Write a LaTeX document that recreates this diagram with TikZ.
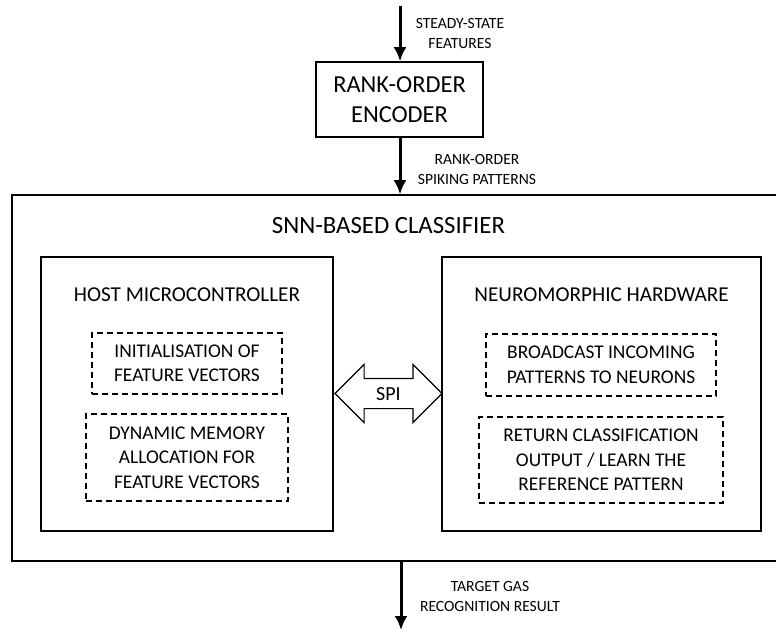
\documentclass[tikz,border=0pt]{standalone}
\usepackage{fontspec}
\setmainfont{Carlito}
\usetikzlibrary{arrows.meta,shapes.arrows}

\tikzset{
  block/.style={draw, line width=1.5pt, rectangle, inner sep=0pt},
  subtask/.style={draw, line width=1.2pt, dash pattern=on 6pt off 4pt, rectangle,
    align=center, inner sep=0pt, font=\fontsize{19.4}{24.5}\selectfont},
  heading/.style={align=center, font=\fontsize{21.2}{26}\selectfont},
  flowarrow/.style={line width=3pt, -{Latex[length=14pt,width=13pt]}},
  flowlabel/.style={align=center, font=\fontsize{15.6}{20}\selectfont},
}

\begin{document}
\begin{tikzpicture}[x=1pt,y=-1pt]
  \clip (0,0) rectangle (776,631);

  % Encoder
  \node [block, minimum width=167pt, minimum height=75pt, align=center,
    font=\fontsize{24.4}{30}\selectfont] (encoder) at (399.5,99.5)
    {RANK-ORDER\\ENCODER};

  % Classifier (right edge runs off the page)
  \node [block, minimum width=778pt, minimum height=366pt] (classifier) at (401,378) {};
  \node [heading, font=\fontsize{24.8}{30}\selectfont] (clstitle) at (388.5,226)
    {SNN-BASED CLASSIFIER};

  % Host microcontroller
  \node [block, minimum width=292pt, minimum height=274pt] (host) at (187,394) {};
  \node [heading] (hosttitle) at (187,295) {HOST MICROCONTROLLER};
  \node [subtask, minimum width=190pt, minimum height=61pt] (init) at (187,363.5)
    {INITIALISATION OF\\FEATURE VECTORS};
  \node [subtask, minimum width=202pt, minimum height=87pt] (alloc) at (187,457.5)
    {DYNAMIC MEMORY\\ALLOCATION FOR\\FEATURE VECTORS};

  % Neuromorphic hardware
  \node [block, minimum width=319pt, minimum height=274pt] (neuro) at (601.5,394) {};
  \node [heading] (neurotitle) at (601.5,295) {NEUROMORPHIC HARDWARE};
  \node [subtask, minimum width=230pt, minimum height=62pt] (broadcast) at (601,365)
    {BROADCAST INCOMING\\PATTERNS TO NEURONS};
  \node [subtask, minimum width=244pt, minimum height=86pt] (learn) at (601,460)
    {RETURN CLASSIFICATION\\OUTPUT / LEARN THE\\REFERENCE PATTERN};

  % SPI link
  \node [double arrow, draw, line width=1.2pt, minimum height=107pt, minimum width=57pt,
    double arrow head extend=14pt, inner xsep=0pt, inner ysep=8pt,
    text height=13pt, text depth=0pt, font=\fontsize{20}{24}\selectfont]
    (spi) at (388.5,393.5) {SPI};

  % Flow in and out
  \coordinate (featin) at (400,6);
  \coordinate (result) at (401,630);
  \draw [flowarrow] (featin) -- (encoder.north -| featin);
  \draw [flowarrow] (encoder.south -| featin) -- (classifier.north -| featin);
  \draw [flowarrow] (classifier.south -| result) -- (result);

  % Labels on arrows
  \node [flowlabel] (featlabel) at (460,33.5) {STEADY-STATE\\FEATURES};
  \node [flowlabel] (spikelabel) at (477,169.5) {RANK-ORDER\\SPIKING PATTERNS};
  \node [flowlabel] (resultlabel) at (490,596) {TARGET GAS\\RECOGNITION RESULT};
\end{tikzpicture}
\end{document}
